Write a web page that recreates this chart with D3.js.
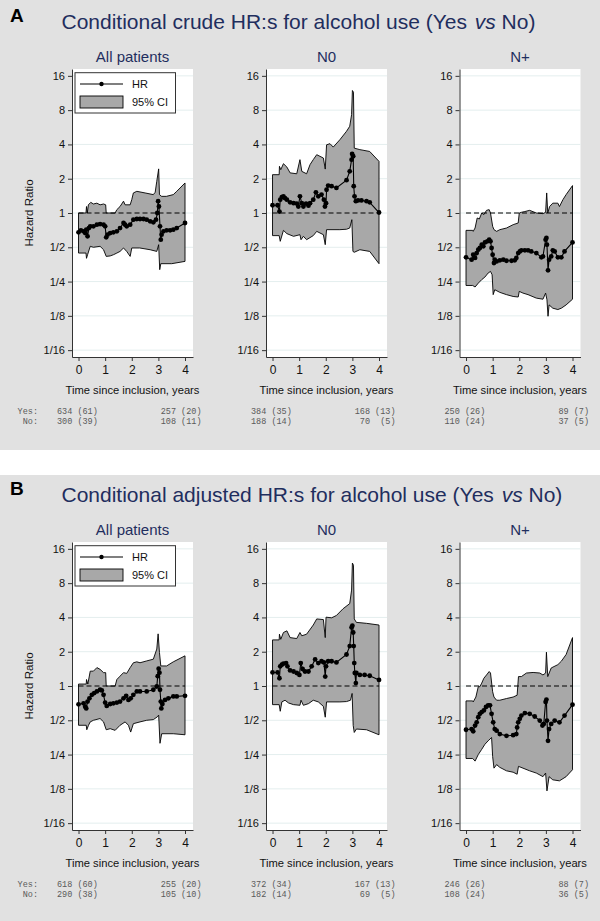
<!DOCTYPE html>
<html>
<head>
<meta charset="utf-8">
<script src="https://cdn.jsdelivr.net/npm/d3@7"></script>
<style>
  body { margin: 0; background: #fff; }
  text { font-family: "Liberation Sans", Arial, sans-serif; }
  .risk { font-family: "Liberation Mono", "DejaVu Sans Mono", monospace; white-space: pre; }
</style>
</head>
<body>
<div id="chart"></div>
<script>
// ---- data: [time in years, hazard ratio] ----
var subTitles = ["All patients", "N0", "N+"];
var yTickVals = [1/16, 1/8, 1/4, 1/2, 1, 2, 4, 8, 16];
var yTickLabels = ["1/16", "1/8", "1/4", "1/2", "1", "2", "4", "8", "16"];
var xTicks = [0, 1, 2, 3, 4];

// A: crude, all patients
var crudeAllHR = [[0,.676],[.09,.704],[.19,.69],[.25,.667],[.29,.714],[.34,.624],[.39,.738],[.44,.764],[.56,.764],[.69,.79],[.81,.80],[.94,.79],[1.0,.764],[1.04,.611],[1.09,.645],[1.19,.667],[1.31,.676],[1.44,.69],[1.56,.738],[1.69,.817],[1.75,.79],[1.81,.764],[1.94,.79],[2.06,.874],[2.19,.886],[2.31,.886],[2.44,.886],[2.56,.874],[2.69,.845],[2.81,.828],[2.91,.874],[2.96,1.0],[2.99,1.27],[3.02,1.14],[3.06,.764],[3.09,.583],[3.12,.645],[3.19,.69],[3.31,.704],[3.44,.704],[3.56,.714],[3.69,.738],[4.0,.817]];
var crudeAllHi = [[0,1.0],[.28,1.0],[.30,1.14],[.33,1.0],[.37,1.18],[.46,1.24],[.56,1.20],[.69,1.22],[.81,1.18],[.94,1.20],[1.02,1.18],[1.04,1.0],[1.375,1.0],[1.44,1.07],[1.56,1.14],[1.69,1.27],[1.75,1.18],[1.94,1.18],[2.0,1.31],[2.06,1.50],[2.19,1.55],[2.5,1.50],[2.81,1.45],[2.88,1.52],[2.94,1.90],[3.01,2.44],[3.04,1.45],[3.12,1.40],[3.3,1.40],[3.56,1.45],[3.69,1.55],[4.0,1.835]];
var crudeAllLo = [[0,.445],[.28,.445],[.30,.40],[.34,.43],[.44,.51],[.56,.50],[.81,.51],[.94,.476],[1.04,.416],[1.19,.42],[1.31,.43],[1.44,.445],[1.56,.46],[1.69,.493],[1.81,.46],[1.94,.416],[2.0,.493],[2.3,.493],[2.69,.476],[2.94,.46],[3.01,.527],[3.05,.318],[3.09,.359],[3.5,.359],[4.0,.376]];

// A: crude, N0
var crudeN0HR = [[0,1.17],[.19,1.17],[.26,1.03],[.29,1.31],[.35,1.38],[.41,1.40],[.47,1.35],[.54,1.31],[.66,1.24],[.79,1.22],[.91,1.21],[.97,1.14],[1.03,1.40],[1.10,1.22],[1.16,1.14],[1.26,1.21],[1.35,1.16],[1.41,1.22],[1.53,1.31],[1.63,1.52],[1.72,1.40],[1.84,1.45],[1.93,1.31],[1.97,1.14],[2.01,1.22],[2.03,1.60],[2.09,1.74],[2.22,1.72],[2.40,1.66],[2.78,1.94],[2.90,2.32],[2.97,2.94],[2.99,3.3],[3.03,3.15],[3.05,1.72],[3.08,1.40],[3.13,1.27],[3.21,1.29],[3.34,1.29],[3.53,1.27],[3.65,1.24],[4.0,1.01]];
var crudeN0Hi = [[0,2.17],[.25,2.17],[.26,2.57],[.31,2.40],[.41,2.71],[.54,2.53],[.66,2.25],[.91,2.21],[1.03,2.94],[1.10,2.32],[1.28,2.21],[1.41,2.66],[1.53,2.94],[1.66,3.25],[1.91,3.04],[1.98,2.43],[2.03,3.97],[2.16,4.06],[2.28,3.79],[2.53,4.40],[2.78,5.22],[2.90,5.77],[2.97,7.3],[3.0,11.9],[3.04,11.5],[3.07,3.71],[3.28,3.6],[3.65,3.47],[4.0,2.84]];
var crudeN0Lo = [[0,.633],[.25,.633],[.29,.564],[.41,.704],[.54,.659],[.79,.624],[1.03,.645],[1.07,.583],[1.16,.624],[1.28,.583],[1.53,.633],[1.66,.69],[1.91,.645],[1.98,.527],[2.03,.714],[2.53,.714],[2.78,.72],[2.90,.738],[2.98,.874],[3.02,.46],[3.07,.452],[3.28,.476],[3.65,.46],[4.0,.359]];

// A: crude, N+
var crudeNpHR = [[0,.408],[.21,.389],[.27,.43],[.34,.403],[.40,.445],[.46,.476],[.52,.493],[.59,.527],[.65,.51],[.71,.552],[.80,.564],[.87,.583],[.92,.564],[.96,.493],[1.0,.43],[1.05,.364],[1.08,.389],[1.15,.376],[1.27,.384],[1.40,.389],[1.52,.381],[1.71,.381],[1.83,.384],[1.89,.403],[1.96,.445],[2.02,.46],[2.08,.47],[2.21,.47],[2.33,.47],[2.45,.46],[2.64,.445],[2.83,.408],[2.89,.416],[2.99,.583],[3.02,.603],[3.04,.527],[3.08,.314],[3.12,.389],[3.20,.416],[3.26,.47],[3.33,.46],[3.45,.408],[3.58,.408],[3.70,.46],[4.0,.552]];
var crudeNpHi = [[0,.704],[.25,.704],[.27,.69],[.34,.738],[.42,.904],[.50,.886],[.59,1.0],[.67,.967],[.77,1.055],[.87,1.07],[.92,1.0],[1.0,.764],[1.05,.714],[1.15,.69],[1.27,.714],[1.52,.738],[1.77,.79],[1.96,.817],[2.0,1.0],[2.08,1.014],[2.21,1.03],[2.39,1.055],[2.64,1.0],[2.89,.987],[2.99,1.014],[3.03,1.50],[3.07,1.0],[3.14,1.14],[3.26,1.22],[3.45,1.22],[3.51,1.14],[3.64,1.31],[3.76,1.45],[4.0,1.74]];
var crudeNpLo = [[0,.231],[.25,.231],[.34,.224],[.46,.242],[.59,.26],[.71,.274],[.83,.297],[.92,.307],[.98,.287],[1.02,.192],[1.08,.212],[1.27,.201],[1.52,.192],[1.77,.185],[1.96,.183],[2.0,.205],[2.14,.198],[2.33,.192],[2.64,.179],[2.89,.175],[2.99,.198],[3.04,.173],[3.08,.124],[3.12,.156],[3.26,.146],[3.45,.142],[3.58,.146],[3.76,.156],[4.0,.175]];

// B: adjusted, all patients
var adjAllHR = [[0,.69],[.19,.705],[.25,.659],[.29,.636],[.34,.73],[.41,.78],[.50,.837],[.59,.866],[.69,.896],[.81,.927],[.875,.915],[.94,.837],[1.0,.715],[1.06,.668],[1.19,.695],[1.31,.705],[1.44,.715],[1.56,.73],[1.69,.78],[1.79,.82],[1.875,.755],[1.96,.78],[2.06,.837],[2.19,.896],[2.31,.896],[2.56,.896],[2.81,.927],[2.94,.99],[2.975,1.22],[3.01,1.42],[3.04,1.31],[3.06,.927],[3.09,.73],[3.11,.636],[3.15,.695],[3.25,.755],[3.375,.78],[3.56,.81],[3.69,.81],[4.0,.82]];
var adjAllHi = [[0,1.04],[.29,1.04],[.30,1.14],[.35,1.04],[.44,1.35],[.56,1.35],[.69,1.45],[.81,1.40],[.94,1.31],[1.02,1.31],[1.04,1.0],[1.375,1.0],[1.44,1.14],[1.56,1.22],[1.69,1.31],[1.81,1.29],[1.94,1.45],[2.06,1.60],[2.19,1.63],[2.31,1.60],[2.56,1.66],[2.81,1.72],[2.94,2.11],[2.99,2.87],[3.04,1.97],[3.09,1.50],[3.31,1.50],[3.56,1.63],[4.0,1.84]];
var adjAllLo = [[0,.452],[.29,.452],[.31,.413],[.375,.452],[.44,.484],[.56,.50],[.81,.518],[.94,.484],[1.04,.413],[1.19,.422],[1.375,.408],[1.56,.452],[1.75,.484],[1.875,.452],[1.96,.394],[2.06,.467],[2.31,.484],[2.56,.50],[2.81,.507],[2.96,.536],[3.01,.555],[3.06,.314],[3.125,.381],[3.56,.381],[4.0,.373]];

// B: adjusted, N0
var adjN0HR = [[0,1.315],[.19,1.315],[.26,1.17],[.29,1.49],[.35,1.54],[.41,1.57],[.51,1.59],[.56,1.49],[.66,1.37],[.79,1.34],[.91,1.30],[1.01,1.25],[1.06,1.59],[1.13,1.41],[1.22,1.34],[1.35,1.34],[1.47,1.49],[1.60,1.71],[1.72,1.59],[1.84,1.65],[1.93,1.61],[1.98,1.21],[2.01,1.49],[2.09,1.65],[2.22,1.65],[2.40,1.61],[2.78,1.89],[2.90,2.24],[2.97,3.27],[3.0,3.38],[3.03,2.95],[3.05,2.24],[3.07,1.59],[3.09,1.30],[3.13,1.06],[3.15,1.30],[3.28,1.25],[3.46,1.25],[3.65,1.23],[4.0,1.13]];
var adjN0Hi = [[0,2.54],[.25,2.54],[.26,2.85],[.31,2.57],[.41,2.95],[.54,3.05],[.66,2.66],[.91,2.61],[1.03,2.95],[1.10,2.76],[1.28,2.85],[1.53,3.43],[1.66,3.88],[1.91,3.83],[1.98,2.66],[2.01,4.02],[2.22,3.97],[2.40,4.16],[2.65,4.77],[2.90,5.29],[2.97,6.95],[3.0,12.0],[3.04,11.5],[3.07,3.88],[3.15,3.62],[3.53,3.55],[4.0,3.43]];
var adjN0Lo = [[0,.686],[.25,.686],[.29,.60],[.35,.725],[.47,.75],[.60,.71],[.79,.686],[1.03,.677],[1.07,.75],[1.16,.677],[1.35,.70],[1.53,.75],[1.72,.725],[1.91,.663],[1.98,.532],[2.03,.725],[2.53,.725],[2.78,.73],[2.93,.75],[2.99,.86],[3.03,.45],[3.07,.391],[3.15,.419],[3.53,.413],[4.0,.373]];

// B: adjusted, N+
var adjNpHR = [[0,.413],[.21,.419],[.27,.40],[.34,.449],[.40,.48],[.46,.532],[.52,.57],[.59,.59],[.67,.61],[.75,.654],[.83,.677],[.90,.677],[.96,.57],[1.02,.48],[1.08,.419],[1.15,.405],[1.27,.378],[1.52,.365],[1.77,.37],[1.89,.378],[1.92,.433],[1.96,.48],[2.02,.515],[2.08,.55],[2.21,.578],[2.39,.57],[2.58,.54],[2.77,.497],[2.87,.449],[2.92,.465],[2.99,.725],[3.02,.76],[3.04,.497],[3.08,.33],[3.12,.419],[3.20,.465],[3.33,.497],[3.51,.48],[3.70,.55],[4.0,.686]];
var adjNpHi = [[0,.74],[.25,.74],[.27,.725],[.37,.80],[.46,.986],[.52,.986],[.59,1.06],[.67,1.17],[.77,1.25],[.87,1.34],[.92,1.30],[1.0,.89],[1.05,.80],[1.15,.75],[1.27,.75],[1.52,.776],[1.77,.80],[1.92,.83],[1.97,1.21],[2.08,1.21],[2.27,1.30],[2.52,1.315],[2.77,1.30],[2.89,1.25],[2.99,1.30],[3.02,1.98],[3.07,1.21],[3.20,1.44],[3.45,1.54],[3.58,1.65],[3.76,1.89],[4.0,2.66]];
var adjNpLo = [[0,.231],[.25,.231],[.34,.219],[.46,.25],[.59,.278],[.71,.308],[.83,.33],[.96,.353],[1.0,.24],[1.05,.19],[1.15,.204],[1.27,.193],[1.52,.18],[1.77,.175],[1.92,.168],[1.97,.197],[2.14,.19],[2.39,.18],[2.64,.172],[2.89,.16],[2.99,.172],[3.04,.12],[3.12,.16],[3.26,.15],[3.51,.147],[3.76,.16],[4.0,.184]];

// numbers at risk (events) at t = 0 and t = 4
var crudeYes = [["634 (61)", "257 (20)"], ["384 (35)", "168 (13)"], ["250 (26)", "89 (7)"]];
var crudeNo  = [["300 (39)", "108 (11)"], ["188 (14)", " 70  (5)"], ["110 (24)", "37 (5)"]];
var adjYes   = [["618 (60)", "255 (20)"], ["372 (34)", "167 (13)"], ["246 (26)", "88 (7)"]];
var adjNo    = [["290 (38)", "105 (10)"], ["182 (14)", " 69  (5)"], ["108 (24)", "36 (5)"]];

// ---- layout ----
var navy = "#1f2e5e";
var plotLefts = [72, 266, 459.5];
var plotW = 121;
var plotTop = 69, plotBottom = 357;

var svg = d3.select("#chart").append("svg")
  .attr("width", 600)
  .attr("height", 921);

// grey backgrounds with white strip between A and B
svg.append("rect").attr("x", 0).attr("y", 0).attr("width", 600).attr("height", 450).attr("fill", "#e1e1e1");
svg.append("rect").attr("x", 0).attr("y", 475).attr("width", 600).attr("height", 446).attr("fill", "#e1e1e1");

var blocks = [
  { dy: 0, letter: "A", kind: "crude", sets: [[crudeAllHR, crudeAllLo, crudeAllHi], [crudeN0HR, crudeN0Lo, crudeN0Hi], [crudeNpHR, crudeNpLo, crudeNpHi]], yes: crudeYes, no: crudeNo },
  { dy: 473, letter: "B", kind: "adjusted", sets: [[adjAllHR, adjAllLo, adjAllHi], [adjN0HR, adjN0Lo, adjN0Hi], [adjNpHR, adjNpLo, adjNpHi]], yes: adjYes, no: adjNo }
];

var yScale = d3.scaleLog().base(2)
  .domain([Math.pow(2, -4.2), Math.pow(2, 4.2)])
  .range([plotBottom, plotTop]);

blocks.forEach(function(b) {
  var g = svg.append("g").attr("transform", "translate(0," + b.dy + ")");

  // panel letter and title
  g.append("text").attr("x", 10).attr("y", 21.5)
    .attr("font-size", "19px").attr("font-weight", "bold").attr("fill", "#000")
    .text(b.letter);
  var title = g.append("text").attr("x", 61.5).attr("y", 28.5)
    .attr("font-size", "21px").attr("fill", navy);
  title.append("tspan").text("Conditional " + b.kind + " HR:s for alcohol use (Yes ");
  title.append("tspan").attr("dx", 2).attr("font-style", "italic").text("vs");
  title.append("tspan").text(" No)");

  b.sets.forEach(function(s, i) {
    var left = plotLefts[i];
    var x = d3.scaleLinear().domain([-0.245, 4.3]).range([left, left + plotW]);
    var hr = s[0], lo = s[1], hi = s[2];

    // subplot title
    g.append("text").attr("x", left + plotW / 2).attr("y", 61.7)
      .attr("text-anchor", "middle").attr("font-size", "15px").attr("fill", navy)
      .text(subTitles[i]);

    // plot region
    g.append("rect").attr("x", left).attr("y", plotTop)
      .attr("width", plotW).attr("height", plotBottom - plotTop).attr("fill", "#fff");

    // horizontal grid
    g.selectAll(null).data(yTickVals).enter().append("line")
      .attr("x1", left).attr("x2", left + plotW)
      .attr("y1", d => yScale(d)).attr("y2", d => yScale(d))
      .attr("stroke", "#e4eeee").attr("stroke-width", 1);

    // confidence band: upper edge then lower edge reversed
    var bandLine = d3.line().x(d => x(d[0])).y(d => yScale(d[1]));
    g.append("path")
      .attr("d", bandLine(hi.concat(lo.slice().reverse())) + "Z")
      .attr("fill", "#a8a8a8")
      .attr("stroke", "#000")
      .attr("stroke-width", 0.9)
      .attr("stroke-linejoin", "round");

    // reference line at HR = 1
    g.append("line")
      .attr("x1", x(0)).attr("x2", x(4))
      .attr("y1", yScale(1)).attr("y2", yScale(1))
      .attr("stroke", "#000").attr("stroke-width", 1)
      .attr("stroke-dasharray", "5,3");

    // HR line with markers
    g.append("path")
      .attr("d", bandLine(hr))
      .attr("fill", "none").attr("stroke", "#000").attr("stroke-width", 1.1);
    g.selectAll(null).data(hr).enter().append("circle")
      .attr("cx", d => x(d[0])).attr("cy", d => yScale(d[1]))
      .attr("r", 2.4).attr("fill", "#000");

    // axes
    var leftAxis = d3.axisLeft(yScale)
      .tickValues(yTickVals)
      .tickFormat((d, k) => yTickLabels[k])
      .tickSize(4).tickSizeOuter(0).tickPadding(3);
    var yAx = g.append("g").attr("transform", "translate(" + left + ",0)").call(leftAxis);
    yAx.selectAll("text").attr("font-size", "11px").attr("fill", "#111")
      .style("font-family", "'Liberation Sans', Arial, sans-serif");
    yAx.selectAll("path, line").attr("stroke", "#333");

    var bottomAxis = d3.axisBottom(x)
      .tickValues(xTicks)
      .tickFormat(d3.format("d"))
      .tickSize(4).tickSizeOuter(0).tickPadding(4);
    var xAx = g.append("g").attr("transform", "translate(0," + plotBottom + ")").call(bottomAxis);
    xAx.selectAll("text").attr("font-size", "12px").attr("fill", "#111")
      .style("font-family", "'Liberation Sans', Arial, sans-serif");
    xAx.selectAll("path, line").attr("stroke", "#333");

    // x axis title
    g.append("text").attr("x", left + plotW / 2).attr("y", 393.5)
      .attr("text-anchor", "middle").attr("font-size", "11.2px").attr("fill", "#111")
      .text("Time since inclusion, years");

    // numbers at risk
    [b.yes[i], b.no[i]].forEach(function(row, r) {
      var yy = 413.5 + r * 10;
      g.append("text").attr("class", "risk").attr("x", x(0) - 21.5).attr("y", yy)
        .attr("font-size", "8.5px").attr("fill", "#5a5a5a").text(row[0]);
      g.append("text").attr("class", "risk").attr("x", x(4) + 16.5).attr("y", yy)
        .attr("text-anchor", "end").attr("font-size", "8.5px").attr("fill", "#5a5a5a").text(row[1]);
    });

    if (i === 0) {
      // y axis title
      g.append("text")
        .attr("transform", "translate(33," + ((plotTop + plotBottom) / 2) + ") rotate(-90)")
        .attr("text-anchor", "middle").attr("font-size", "11.5px").attr("fill", "#111")
        .text("Hazard Ratio");

      ["Yes:", "No:"].forEach(function(lbl, r) {
        g.append("text").attr("class", "risk").attr("x", 38).attr("y", 413.5 + r * 10)
          .attr("text-anchor", "end").attr("font-size", "8.5px").attr("fill", "#5a5a5a").text(lbl);
      });

      // legend
      var lg = g.append("g");
      lg.append("rect").attr("x", 75).attr("y", 72.7).attr("width", 100.5).attr("height", 40.3)
        .attr("fill", "#fff").attr("stroke", "#333").attr("stroke-width", 1);
      lg.append("line").attr("x1", 80).attr("x2", 123).attr("y1", 84).attr("y2", 84)
        .attr("stroke", "#000").attr("stroke-width", 1.1);
      lg.append("circle").attr("cx", 101.5).attr("cy", 84).attr("r", 2.2).attr("fill", "#000");
      lg.append("text").attr("x", 132).attr("y", 88).attr("font-size", "11px").attr("fill", "#111").text("HR");
      lg.append("rect").attr("x", 80).attr("y", 96).attr("width", 43).attr("height", 12)
        .attr("fill", "#a8a8a8").attr("stroke", "#000").attr("stroke-width", 0.9);
      lg.append("text").attr("x", 132).attr("y", 106).attr("font-size", "11px").attr("fill", "#111").text("95% CI");
    }
  });
});
</script>
</body>
</html>
